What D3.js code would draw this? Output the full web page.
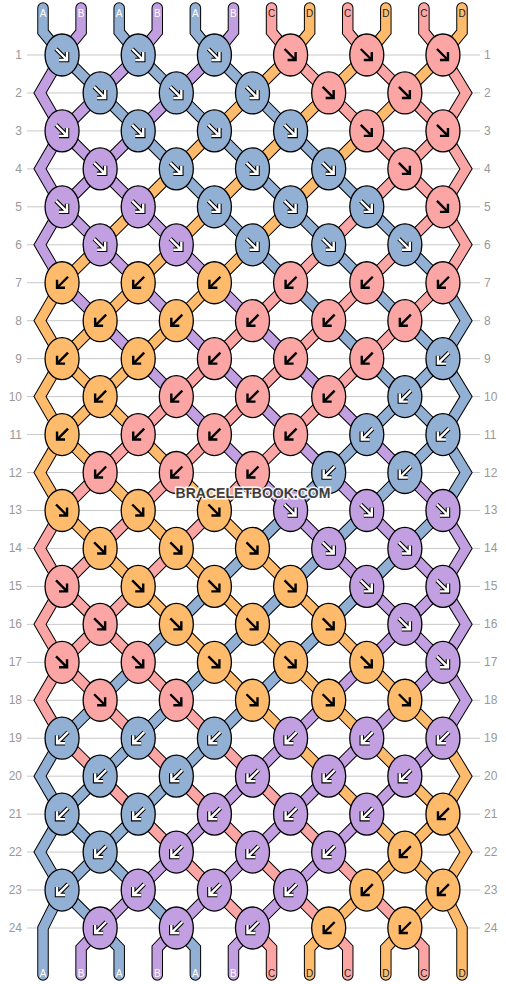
<!DOCTYPE html>
<html><head><meta charset="utf-8">
<script src="https://cdn.jsdelivr.net/npm/d3@7"></script>
<style>body{margin:0;background:#fff}</style>
</head><body><svg id="c" width="506" height="984"></svg>
<script>
// string start order and colours
const strings = ['A','B','A','B','A','B','C','D','C','D','C','D'];
const colors = {A:'#92b0d3', B:'#c29fe0', C:'#fba5a5', D:'#ffbb6c'};
const lightArrow = {A:true, B:true, C:false, D:false};
// knot direction per row: 'f' = forward (↘), 'b' = backward (↙)
const rowKnots = ['f','f','f','f','f','f','b','b','b','b','b','b',
                  'f','f','f','f','f','f','b','b','b','b','b','b'];
const rowLabels = d3.range(1, 25);

const svg = d3.select('#c');
const x = d3.scaleLinear().domain([0, 11]).range([43, 462]);
const y = d3.scaleLinear().domain([1, 24]).range([55, 928]);

// simulate the strings
let pos = strings.map((s, i) => i);           // pos[slot] = string id
let paths = strings.map((s, i) => [[x(i), 8], [x(i), 32]]);
let knots = [];
rowKnots.forEach((k, r) => {
  const row = r + 1, yy = y(row);
  const start = row % 2 ? 0 : 1;
  if (start === 1) {
    const last = row === 24;
    paths[pos[0]].push([last ? x(0) : 40, yy]);
    paths[pos[11]].push([last ? x(11) : 466, yy]);
  }
  for (let i = start; i + 1 < 12; i += 2) {
    const a = pos[i], b = pos[i + 1];
    const cx = (x(i) + x(i + 1)) / 2;
    paths[a].push([cx, yy]); paths[b].push([cx, yy]);
    const col = k === 'f' ? strings[a] : strings[b];
    knots.push({cx, cy: yy, col, dir: k});
    pos[i] = b; pos[i + 1] = a;
  }
});
pos.forEach((id, i) => { paths[id].push([x(i), 948], [x(i), 975]); });

// grid lines and labels
svg.selectAll('line.g').data(rowLabels).join('line')
  .attr('x1', 27).attr('x2', 480).attr('y1', d => y(d)).attr('y2', d => y(d))
  .attr('stroke', '#c8c8c8').attr('stroke-width', 1);
['l','r'].forEach(side => {
  svg.selectAll('text.' + side).data(rowLabels).join('text')
    .attr('x', side === 'l' ? 22 : 484).attr('y', d => y(d) + 4)
    .attr('text-anchor', side === 'l' ? 'end' : 'start')
    .attr('font-family', 'Arial, Liberation Sans, sans-serif').attr('font-size', 12)
    .attr('fill', '#999').text(d => d);
});

// strings
const line = d3.line();
paths.forEach((p, id) => {
  svg.append('path').attr('d', line(p)).attr('fill', 'none')
    .attr('stroke', '#000').attr('stroke-width', 11.5).attr('stroke-linecap', 'round');
});
paths.forEach((p, id) => {
  svg.append('path').attr('d', line(p)).attr('fill', 'none')
    .attr('stroke', colors[strings[id]]).attr('stroke-width', 9.5).attr('stroke-linecap', 'round');
});

// string letters
const letter = (t, xx, yy) => svg.append('text').attr('x', xx).attr('y', yy)
  .attr('text-anchor', 'middle').attr('font-family', 'Arial, Liberation Sans, sans-serif')
  .attr('font-size', 10).attr('fill', lightArrow[t] ? '#fff' : '#222').text(t);
strings.forEach((s, i) => letter(s, x(i), 17));
pos.forEach((id, i) => letter(strings[id], x(i), 977));

// knots
const g = svg.selectAll('g.k').data(knots).join('g')
  .attr('transform', d => `translate(${d.cx},${d.cy})`);
g.append('ellipse').attr('rx', 17).attr('ry', 21)
  .attr('fill', d => colors[d.col]).attr('stroke', '#000').attr('stroke-width', 1.3);
const arrow = d => d.dir === 'f' ? 'M-6,-6L5,5M5,-3L5,5L-3,5' : 'M6,-6L-5,5M-5,-3L-5,5L3,5';
g.filter(d => lightArrow[d.col]).append('path').attr('d', arrow).attr('fill', 'none')
  .attr('stroke', '#000').attr('stroke-width', 4.5).attr('stroke-linejoin', 'miter');
g.append('path').attr('d', arrow).attr('fill', 'none')
  .attr('stroke', d => lightArrow[d.col] ? '#fff' : '#000').attr('stroke-width', 2.4);

// watermark
svg.append('text').attr('x', 253).attr('y', 498).attr('text-anchor', 'middle')
  .attr('font-family', 'Arial, Liberation Sans, sans-serif').attr('font-weight', 'bold')
  .attr('font-size', 14).attr('fill', '#333').attr('stroke', '#fff').attr('stroke-width', 3)
  .attr('paint-order', 'stroke').attr('opacity', 0.9).text('BRACELETBOOK.COM');
</script></body></html>
